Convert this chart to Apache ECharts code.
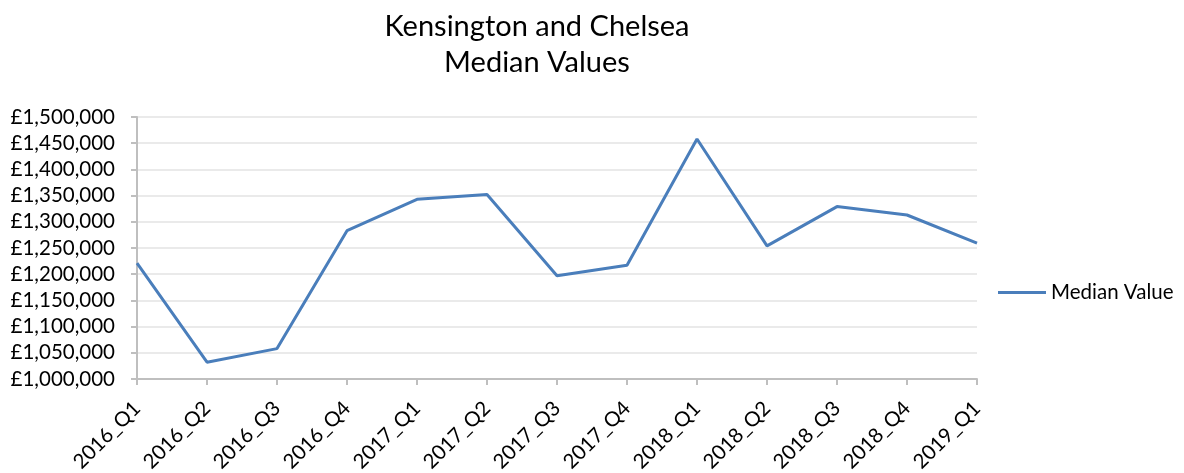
<!DOCTYPE html>
<html>
<head>
<meta charset="utf-8">
<script src="https://cdn.jsdelivr.net/npm/echarts@6/dist/echarts.min.js"></script>
<style>html,body{margin:0;padding:0;background:#fff;}#c{width:1184px;height:473px;}</style>
</head>
<body>
<div id="c"></div>
<script>
const categories = ['2016_Q1','2016_Q2','2016_Q3','2016_Q4','2017_Q1','2017_Q2','2017_Q3','2017_Q4','2018_Q1','2018_Q2','2018_Q3','2018_Q4','2019_Q1'];
const medianValues = [1221000,1032000,1058000,1283000,1343000,1352000,1197000,1217000,1458000,1254000,1329000,1313000,1259500];
const titleLines = ['Kensington and Chelsea','Median Values'];
const seriesName = 'Median Value';

const font = 'Lato, "Open Sans", sans-serif';
const chart = echarts.init(document.getElementById('c'), null, {renderer:'canvas'});
chart.setOption({
  animation:false,
  backgroundColor:'#fff',
  title:{
    text:titleLines.join('\n'),
    left:532, top:4, textAlign:'center',
    textStyle:{fontFamily:font, fontSize:29, fontWeight:'normal', color:'#000', lineHeight:36}
  },
  legend:{
    data:[{name:seriesName, icon:'path://M0,0 L48,0 L48,3 L0,3 Z'}],
    left:993, top:277, orient:'vertical',
    itemWidth:48, itemHeight:3, itemGap:6,
    textStyle:{fontFamily:font, fontSize:20.5, color:'#000'}
  },
  grid:{left:137, right:207, top:117, bottom:94, containLabel:false, outerBoundsMode:'none'},
  xAxis:{
    type:'category', data:categories, boundaryGap:false,
    axisLine:{lineStyle:{color:'#bfbfbf', width:2}},
    axisTick:{show:true, length:6, lineStyle:{color:'#bfbfbf', width:2}},
    axisLabel:{rotate:45, margin:26, fontFamily:font, fontSize:20.5, color:'#000', interval:0},
    splitLine:{show:false}
  },
  yAxis:{
    type:'value', min:1000000, max:1500000, interval:50000,
    axisLine:{show:true, lineStyle:{color:'#bfbfbf', width:2}},
    axisTick:{show:true, length:6, lineStyle:{color:'#bfbfbf', width:2}},
    axisLabel:{margin:22, fontFamily:font, fontSize:20.5, color:'#000',
      formatter:v=>'£'+v.toLocaleString('en-GB')},
    splitLine:{lineStyle:{color:'#e3e3e3', width:1.5}}
  },
  series:[{
    name:seriesName, type:'line', data:medianValues,
    symbol:'none', lineStyle:{color:'#4a7ebb', width:3}, itemStyle:{color:'#4a7ebb'}
  }]
});
</script>
</body>
</html>
